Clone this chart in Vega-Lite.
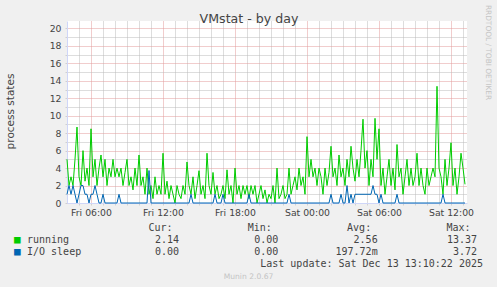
{
"$schema":"https://vega.github.io/schema/vega-lite/v6.json",
"width":400,"height":182,
"autosize":{"type":"none"},
"padding":{"left":67,"top":21,"right":30,"bottom":84},
"background":"#f0f0f0",
"config":{"view":{"fill":"white","strokeWidth":0},"font":"DejaVu Sans"},
"layer":[
{
"data":{"values":[
{"t":"2025-12-12T04:00Z","running":5,"io":1},
{"t":"2025-12-12T04:10Z","running":2,"io":2},
{"t":"2025-12-12T04:20Z","running":3,"io":1},
{"t":"2025-12-12T04:30Z","running":2,"io":2},
{"t":"2025-12-12T04:40Z","running":5,"io":1},
{"t":"2025-12-12T04:50Z","running":8.7,"io":0},
{"t":"2025-12-12T05:00Z","running":3,"io":1},
{"t":"2025-12-12T05:10Z","running":2,"io":2},
{"t":"2025-12-12T05:20Z","running":6,"io":2},
{"t":"2025-12-12T05:30Z","running":2.5,"io":1},
{"t":"2025-12-12T05:40Z","running":4,"io":1},
{"t":"2025-12-12T05:50Z","running":2,"io":0},
{"t":"2025-12-12T06:00Z","running":8.5,"io":1},
{"t":"2025-12-12T06:10Z","running":3,"io":1},
{"t":"2025-12-12T06:20Z","running":5,"io":2},
{"t":"2025-12-12T06:30Z","running":2,"io":1},
{"t":"2025-12-12T06:40Z","running":4,"io":0},
{"t":"2025-12-12T06:50Z","running":5.5,"io":0},
{"t":"2025-12-12T07:00Z","running":3,"io":1},
{"t":"2025-12-12T07:10Z","running":5,"io":0},
{"t":"2025-12-12T07:20Z","running":2,"io":0},
{"t":"2025-12-12T07:30Z","running":4,"io":0},
{"t":"2025-12-12T07:40Z","running":3,"io":0},
{"t":"2025-12-12T07:50Z","running":5,"io":0},
{"t":"2025-12-12T08:00Z","running":3,"io":0},
{"t":"2025-12-12T08:10Z","running":4,"io":0},
{"t":"2025-12-12T08:20Z","running":3,"io":1},
{"t":"2025-12-12T08:30Z","running":4,"io":0},
{"t":"2025-12-12T08:40Z","running":2,"io":0},
{"t":"2025-12-12T08:50Z","running":3.5,"io":0},
{"t":"2025-12-12T09:00Z","running":5,"io":0},
{"t":"2025-12-12T09:10Z","running":2,"io":0},
{"t":"2025-12-12T09:20Z","running":3,"io":0},
{"t":"2025-12-12T09:30Z","running":1.5,"io":0},
{"t":"2025-12-12T09:40Z","running":4,"io":0},
{"t":"2025-12-12T09:50Z","running":2,"io":0},
{"t":"2025-12-12T10:00Z","running":5.5,"io":0},
{"t":"2025-12-12T10:10Z","running":2,"io":0},
{"t":"2025-12-12T10:20Z","running":3,"io":0},
{"t":"2025-12-12T10:30Z","running":1,"io":0},
{"t":"2025-12-12T10:40Z","running":4,"io":0},
{"t":"2025-12-12T10:50Z","running":1,"io":3.72},
{"t":"2025-12-12T11:00Z","running":2,"io":0},
{"t":"2025-12-12T11:10Z","running":0.5,"io":0},
{"t":"2025-12-12T11:20Z","running":3,"io":0},
{"t":"2025-12-12T11:30Z","running":1,"io":0},
{"t":"2025-12-12T11:40Z","running":2,"io":0},
{"t":"2025-12-12T11:50Z","running":1,"io":0},
{"t":"2025-12-12T12:00Z","running":5.7,"io":0},
{"t":"2025-12-12T12:10Z","running":1,"io":0},
{"t":"2025-12-12T12:20Z","running":2.5,"io":0},
{"t":"2025-12-12T12:30Z","running":0.5,"io":0},
{"t":"2025-12-12T12:40Z","running":2,"io":0},
{"t":"2025-12-12T12:50Z","running":1,"io":0},
{"t":"2025-12-12T13:00Z","running":0,"io":0},
{"t":"2025-12-12T13:10Z","running":2,"io":0},
{"t":"2025-12-12T13:20Z","running":1,"io":0},
{"t":"2025-12-12T13:30Z","running":0.5,"io":0},
{"t":"2025-12-12T13:40Z","running":2,"io":0},
{"t":"2025-12-12T13:50Z","running":1,"io":0},
{"t":"2025-12-12T14:00Z","running":4.7,"io":0},
{"t":"2025-12-12T14:10Z","running":2,"io":0},
{"t":"2025-12-12T14:20Z","running":1,"io":1},
{"t":"2025-12-12T14:30Z","running":3,"io":0},
{"t":"2025-12-12T14:40Z","running":0.5,"io":0},
{"t":"2025-12-12T14:50Z","running":2,"io":0},
{"t":"2025-12-12T15:00Z","running":3.7,"io":0},
{"t":"2025-12-12T15:10Z","running":1,"io":0},
{"t":"2025-12-12T15:20Z","running":2,"io":0},
{"t":"2025-12-12T15:30Z","running":0.5,"io":0},
{"t":"2025-12-12T15:40Z","running":5.7,"io":0},
{"t":"2025-12-12T15:50Z","running":2,"io":0},
{"t":"2025-12-12T16:00Z","running":1,"io":0},
{"t":"2025-12-12T16:10Z","running":3.5,"io":0},
{"t":"2025-12-12T16:20Z","running":1,"io":1},
{"t":"2025-12-12T16:30Z","running":2,"io":0},
{"t":"2025-12-12T16:40Z","running":0.5,"io":0},
{"t":"2025-12-12T16:50Z","running":1,"io":0},
{"t":"2025-12-12T17:00Z","running":2,"io":1},
{"t":"2025-12-12T17:10Z","running":0.5,"io":0},
{"t":"2025-12-12T17:20Z","running":3.8,"io":0},
{"t":"2025-12-12T17:30Z","running":1,"io":0},
{"t":"2025-12-12T17:40Z","running":2,"io":0},
{"t":"2025-12-12T17:50Z","running":0,"io":0},
{"t":"2025-12-12T18:00Z","running":4,"io":0},
{"t":"2025-12-12T18:10Z","running":1,"io":0},
{"t":"2025-12-12T18:20Z","running":2,"io":0},
{"t":"2025-12-12T18:30Z","running":0.5,"io":0},
{"t":"2025-12-12T18:40Z","running":2,"io":0},
{"t":"2025-12-12T18:50Z","running":1,"io":0},
{"t":"2025-12-12T19:00Z","running":2,"io":0},
{"t":"2025-12-12T19:10Z","running":0.5,"io":1},
{"t":"2025-12-12T19:20Z","running":2,"io":0},
{"t":"2025-12-12T19:30Z","running":1,"io":0},
{"t":"2025-12-12T19:40Z","running":2,"io":0},
{"t":"2025-12-12T19:50Z","running":0,"io":0},
{"t":"2025-12-12T20:00Z","running":1,"io":0},
{"t":"2025-12-12T20:10Z","running":2,"io":0},
{"t":"2025-12-12T20:20Z","running":0.5,"io":0},
{"t":"2025-12-12T20:30Z","running":1.5,"io":0},
{"t":"2025-12-12T20:40Z","running":0,"io":0},
{"t":"2025-12-12T20:50Z","running":1,"io":0},
{"t":"2025-12-12T21:00Z","running":0.5,"io":0},
{"t":"2025-12-12T21:10Z","running":2,"io":0},
{"t":"2025-12-12T21:20Z","running":0,"io":0},
{"t":"2025-12-12T21:30Z","running":4,"io":0},
{"t":"2025-12-12T21:40Z","running":0.5,"io":0},
{"t":"2025-12-12T21:50Z","running":1,"io":0},
{"t":"2025-12-12T22:00Z","running":2,"io":0},
{"t":"2025-12-12T22:10Z","running":0.5,"io":0},
{"t":"2025-12-12T22:20Z","running":1,"io":0},
{"t":"2025-12-12T22:30Z","running":4,"io":1},
{"t":"2025-12-12T22:40Z","running":1,"io":0},
{"t":"2025-12-12T22:50Z","running":2,"io":0},
{"t":"2025-12-12T23:00Z","running":3,"io":0},
{"t":"2025-12-12T23:10Z","running":1.5,"io":0},
{"t":"2025-12-12T23:20Z","running":4,"io":0},
{"t":"2025-12-12T23:30Z","running":2,"io":0},
{"t":"2025-12-12T23:40Z","running":3,"io":0},
{"t":"2025-12-12T23:50Z","running":1,"io":0},
{"t":"2025-12-13T00:00Z","running":7.6,"io":0},
{"t":"2025-12-13T00:10Z","running":3,"io":0},
{"t":"2025-12-13T00:20Z","running":5,"io":0},
{"t":"2025-12-13T00:30Z","running":3,"io":0},
{"t":"2025-12-13T00:40Z","running":4,"io":0},
{"t":"2025-12-13T00:50Z","running":2,"io":0},
{"t":"2025-12-13T01:00Z","running":4,"io":0},
{"t":"2025-12-13T01:10Z","running":3,"io":0},
{"t":"2025-12-13T01:20Z","running":1,"io":0},
{"t":"2025-12-13T01:30Z","running":4,"io":0},
{"t":"2025-12-13T01:40Z","running":2,"io":0},
{"t":"2025-12-13T01:50Z","running":3.5,"io":0},
{"t":"2025-12-13T02:00Z","running":6.5,"io":1},
{"t":"2025-12-13T02:10Z","running":3,"io":0},
{"t":"2025-12-13T02:20Z","running":4,"io":0},
{"t":"2025-12-13T02:30Z","running":2,"io":0},
{"t":"2025-12-13T02:40Z","running":5.5,"io":0},
{"t":"2025-12-13T02:50Z","running":3,"io":1},
{"t":"2025-12-13T03:00Z","running":4,"io":0},
{"t":"2025-12-13T03:10Z","running":2,"io":0},
{"t":"2025-12-13T03:20Z","running":5,"io":2},
{"t":"2025-12-13T03:30Z","running":3,"io":0},
{"t":"2025-12-13T03:40Z","running":6.5,"io":1},
{"t":"2025-12-13T03:50Z","running":4,"io":0},
{"t":"2025-12-13T04:00Z","running":2.5,"io":1},
{"t":"2025-12-13T04:10Z","running":5,"io":1},
{"t":"2025-12-13T04:20Z","running":3,"io":1},
{"t":"2025-12-13T04:30Z","running":6,"io":1},
{"t":"2025-12-13T04:40Z","running":9.6,"io":1},
{"t":"2025-12-13T04:50Z","running":4,"io":1},
{"t":"2025-12-13T05:00Z","running":6,"io":1},
{"t":"2025-12-13T05:10Z","running":2,"io":1},
{"t":"2025-12-13T05:20Z","running":5,"io":1},
{"t":"2025-12-13T05:30Z","running":3,"io":2},
{"t":"2025-12-13T05:40Z","running":9.7,"io":1},
{"t":"2025-12-13T05:50Z","running":5,"io":1},
{"t":"2025-12-13T06:00Z","running":8.5,"io":0},
{"t":"2025-12-13T06:10Z","running":2,"io":1},
{"t":"2025-12-13T06:20Z","running":4,"io":0},
{"t":"2025-12-13T06:30Z","running":1,"io":0},
{"t":"2025-12-13T06:40Z","running":3,"io":0},
{"t":"2025-12-13T06:50Z","running":5,"io":0},
{"t":"2025-12-13T07:00Z","running":2,"io":0},
{"t":"2025-12-13T07:10Z","running":4,"io":0},
{"t":"2025-12-13T07:20Z","running":1.5,"io":0},
{"t":"2025-12-13T07:30Z","running":6.7,"io":1},
{"t":"2025-12-13T07:40Z","running":3,"io":0},
{"t":"2025-12-13T07:50Z","running":4,"io":0},
{"t":"2025-12-13T08:00Z","running":1,"io":0},
{"t":"2025-12-13T08:10Z","running":3,"io":0},
{"t":"2025-12-13T08:20Z","running":5,"io":0},
{"t":"2025-12-13T08:30Z","running":2,"io":0},
{"t":"2025-12-13T08:40Z","running":4,"io":0},
{"t":"2025-12-13T08:50Z","running":2,"io":0},
{"t":"2025-12-13T09:00Z","running":3,"io":0},
{"t":"2025-12-13T09:10Z","running":5.7,"io":0},
{"t":"2025-12-13T09:20Z","running":2,"io":0},
{"t":"2025-12-13T09:30Z","running":4,"io":0},
{"t":"2025-12-13T09:40Z","running":2,"io":0},
{"t":"2025-12-13T09:50Z","running":1,"io":0},
{"t":"2025-12-13T10:00Z","running":4,"io":0},
{"t":"2025-12-13T10:10Z","running":2,"io":0},
{"t":"2025-12-13T10:20Z","running":3,"io":0},
{"t":"2025-12-13T10:30Z","running":4,"io":0},
{"t":"2025-12-13T10:40Z","running":3,"io":0},
{"t":"2025-12-13T10:50Z","running":13.37,"io":0},
{"t":"2025-12-13T11:00Z","running":4,"io":0},
{"t":"2025-12-13T11:10Z","running":3,"io":0},
{"t":"2025-12-13T11:20Z","running":1,"io":1},
{"t":"2025-12-13T11:30Z","running":5,"io":0},
{"t":"2025-12-13T11:40Z","running":2,"io":0},
{"t":"2025-12-13T11:50Z","running":4,"io":0},
{"t":"2025-12-13T12:00Z","running":6.9,"io":0},
{"t":"2025-12-13T12:10Z","running":2,"io":0},
{"t":"2025-12-13T12:20Z","running":4,"io":0},
{"t":"2025-12-13T12:30Z","running":1,"io":0},
{"t":"2025-12-13T12:40Z","running":3,"io":0},
{"t":"2025-12-13T12:50Z","running":5.7,"io":0},
{"t":"2025-12-13T13:00Z","running":4,"io":0},
{"t":"2025-12-13T13:10Z","running":2.14,"io":0}
]},
"transform":[{"fold":["running","io"],"as":["series","v"]}],
"mark":{"type":"line","strokeWidth":1},
"encoding":{
"x":{"field":"t","type":"temporal",
"scale":{"type":"utc","domain":[1765512000000,1765632000000]},
"axis":{"title":"Munin 2.0.67","titleFontSize":7.6,"titleFontWeight":"normal","titleColor":"#c4c4c4","titleX":181,"titleY":69,
"values":[1765515600000,1765519200000,1765522800000,1765526400000,1765530000000,1765533600000,1765537200000,1765540800000,1765544400000,1765548000000,1765551600000,1765555200000,1765558800000,1765562400000,1765566000000,1765569600000,1765573200000,1765576800000,1765580400000,1765584000000,1765587600000,1765591200000,1765594800000,1765598400000,1765602000000,1765605600000,1765609200000,1765612800000,1765616400000,1765620000000,1765623600000,1765627200000,1765630800000],
"format":"%a %H:%M","labelExpr":"utchours(datum.value) % 6 === 0 ? datum.label : ''",
"labelFontSize":9.3,"labelColor":"#444","labelPadding":3,"labelFlush":false,"labelOverlap":false,
"tickSize":2,"tickColor":"#d0d0d0","domainColor":"#CFD6F8",
"grid":true,"gridDash":[1,1],"gridColor":{"condition":{"test":"utchours(datum.value) % 6 === 0","value":"#e39a9a"},"value":"#bbbbbb"}}},
"y":{"field":"v","type":"quantitative","scale":{"domain":[0,20.85],"nice":false},
"axis":{"title":"process states","titleFontSize":10.5,"titleFontWeight":"normal","titleColor":"#444","titleX":-52,"titleY":90,
"values":[0,1,2,3,4,5,6,7,8,9,10,11,12,13,14,15,16,17,18,19,20],
"labelExpr":"datum.value % 2 === 0 ? datum.label : ''",
"labelFontSize":9.3,"labelColor":"#444","labelPadding":4,"labelFlush":false,"labelOverlap":false,
"tickSize":2,"tickColor":"#d0d0d0","domainColor":"#CFD6F8",
"grid":true,"gridDash":[1,1],"gridColor":{"condition":{"test":"datum.value % 2 === 0","value":"#e39a9a"},"value":"#bbbbbb"}}},
"color":{"field":"series","type":"nominal","scale":{"domain":["running","io"],"range":["#00CC00","#0066B3"]},"legend":null}
}
},
{
"encoding":{
"x":{"field":"col","type":"nominal","scale":{"type":"point","padding":0,"domain":["Cur","Min","Avg","Max"],"range":[112,410]},
"axis":{"orient":"top","labels":false,"ticks":false,"domain":false,"grid":false,"title":"VMstat - by day","titleFontSize":12.6,"titleFontWeight":"normal","titleColor":"#444","titleX":181.5,"titleY":-3,"titleBaseline":"middle"}},
"y":{"field":"row","type":"nominal","scale":{"type":"point","padding":0,"domain":["header","running","io","update"],"range":[207,243]},
"axis":{"orient":"right","labels":false,"ticks":false,"domain":false,"grid":false,"title":"RRDTOOL / TOBI OETIKER","titleFontSize":7.4,"titleFontWeight":"normal","titleColor":"#c4c4c4","titleAngle":90,"titleX":20,"titleY":31,"titleBaseline":"middle"}},
"text":{"field":"text","type":"nominal"}
},
"layer":[
{"data":{"values":[
{"row":"header","col":"Cur","text":"Cur:"},
{"row":"header","col":"Min","text":"Min:"},
{"row":"header","col":"Avg","text":"Avg:"},
{"row":"header","col":"Max","text":"Max:"}
]},
"mark":{"type":"text","align":"right","baseline":"middle","font":"DejaVu Sans Mono","fontSize":10,"color":"#444","dx":-6.5}},
{"data":{"values":[
{"row":"running","col":"Cur","text":"■"},
{"row":"io","col":"Cur","text":"■"}
]},
"mark":{"type":"text","align":"left","baseline":"middle","font":"DejaVu Sans Mono","fontSize":11,"dx":-165},
"encoding":{"color":{"field":"row","type":"nominal","legend":null}}},
{"data":{"values":[
{"row":"running","col":"Cur","text":"running"},
{"row":"io","col":"Cur","text":"I/O sleep"}
]},
"mark":{"type":"text","align":"left","baseline":"middle","font":"DejaVu Sans Mono","fontSize":10,"color":"#444","dx":-152}},
{"data":{"values":[
{"row":"running","col":"Cur","text":"2.14"},
{"row":"running","col":"Min","text":"0.00"},
{"row":"running","col":"Avg","text":"2.56"},
{"row":"running","col":"Max","text":"13.37"},
{"row":"io","col":"Cur","text":"0.00"},
{"row":"io","col":"Min","text":"0.00"},
{"row":"io","col":"Avg","text":"197.72m"},
{"row":"io","col":"Max","text":"3.72"}
]},
"mark":{"type":"text","align":"right","baseline":"middle","font":"DejaVu Sans Mono","fontSize":10,"color":"#444"}},
{"data":{"values":[
{"row":"update","col":"Max","text":"Last update: Sat Dec 13 13:10:22 2025"}
]},
"mark":{"type":"text","align":"right","baseline":"middle","font":"DejaVu Sans Mono","fontSize":10,"color":"#444","dx":6}}
]
}
],
"resolve":{"scale":{"x":"independent","y":"independent"}}
}
